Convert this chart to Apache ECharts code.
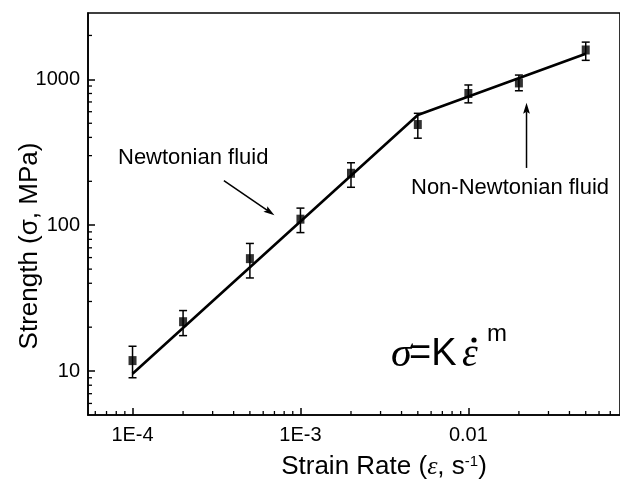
<!DOCTYPE html>
<html><head><meta charset="utf-8">
<script src="https://cdn.jsdelivr.net/npm/echarts@6/dist/echarts.min.js"></script>
<style>html,body{margin:0;padding:0;background:#fff}#c{width:620px;height:482px}</style>
</head><body><div id="c"></div>
<script>
// ---- data ----
const strainRate = [1e-4, 2e-4, 5e-4, 1e-3, 2e-3, 5e-3, 1e-2, 2e-2, 5e-2];
const strength   = [11.8, 21.8, 59, 110, 227, 490, 800, 945, 1590];
const errLow     = [9.0, 17.5, 43.5, 89, 182, 395, 690, 835, 1350];
const errHigh    = [14.8, 26, 75, 131, 268, 585, 915, 1070, 1800];
const fitRate    = [1e-4, 5e-3, 5e-2];
const fitStrength= [9.6, 570, 1500];
const xTickLabels = {'-4':'1E-4','-3':'1E-3','-2':'0.01'};
const yTickLabels = {'1':'10','2':'100','3':'1000'};
// arrows: [tailX, tailY, tipX, tipY]
const arrows = [[3.5e-4, 202, 7.0e-4, 117], [0.0222, 247, 0.0222, 690]];

const X_MIN = 5.43e-5, X_MAX = 0.08, Y_MIN = 5, Y_MAX = 2850;

function minorValues(lo, hi){
  const out=[];
  for(let e=-6;e<=4;e++){
    for(let m=2;m<=9;m++){
      const v=m*Math.pow(10,e);
      if(v>lo && v<hi) out.push(v);
    }
  }
  return out;
}
const xMinor = minorValues(X_MIN, X_MAX);
const yMinor = minorValues(Y_MIN, Y_MAX);

function fmt(map){
  return function(v){
    const l=Math.log10(v), r=Math.round(l);
    if(Math.abs(l-r)<1e-6 && map[String(r)]!==undefined) return map[String(r)];
    return '';
  };
}

const chart = echarts.init(document.getElementById('c'), null, {renderer:'canvas'});
const FONT='Liberation Sans';
const axisLine={lineStyle:{color:'#000',width:1.6}};
const option = {
  backgroundColor:'#fff',
  animation:false,
  grid:{left:88, top:13, right:-11, bottom:67, show:true, borderColor:'#000', borderWidth:1.6},
  xAxis:{type:'log', logBase:10, min:X_MIN, max:X_MAX,
    axisLine:axisLine,
    axisTick:{inside:true, length:7, lineStyle:{color:'#000',width:1.5}},
    minorTick:{show:false}, splitLine:{show:false},
    axisLabel:{formatter:fmt(xTickLabels), color:'#000', fontFamily:FONT, fontSize:20, margin:10, showMinLabel:false, showMaxLabel:false}
  },
  yAxis:{type:'log', logBase:10, min:Y_MIN, max:Y_MAX,
    axisLine:axisLine,
    axisTick:{inside:true, length:7, lineStyle:{color:'#000',width:1.5}},
    minorTick:{show:false}, splitLine:{show:false},
    axisLabel:{formatter:fmt(yTickLabels), color:'#000', fontFamily:FONT, fontSize:20, margin:8, showMinLabel:false, showMaxLabel:false}
  },
  series:[
    {type:'line', data:fitRate.map((x,i)=>[x,fitStrength[i]]), showSymbol:false, symbol:'none',
     lineStyle:{color:'#000', width:2.6}, z:2, silent:true},
    {type:'custom', z:3, silent:true,
     data:strainRate.map((x,i)=>[x, errLow[i], errHigh[i]]),
     encode:{x:0, y:[1,2]},
     renderItem:function(params, api){
       const x=api.value(0);
       const lo=api.coord([x, api.value(1)]);
       const hi=api.coord([x, api.value(2)]);
       const hw=4, st={stroke:'#000', lineWidth:1.5};
       return {type:'group', children:[
         {type:'line', shape:{x1:lo[0],y1:lo[1],x2:hi[0],y2:hi[1]}, style:st},
         {type:'line', shape:{x1:lo[0]-hw,y1:lo[1],x2:lo[0]+hw,y2:lo[1]}, style:st},
         {type:'line', shape:{x1:hi[0]-hw,y1:hi[1],x2:hi[0]+hw,y2:hi[1]}, style:st}
       ]};
     }
    },
    {type:'scatter', z:4, silent:true, symbol:'rect', symbolSize:[8,9],
     itemStyle:{color:'#000'}, data:strainRate.map((x,i)=>[x,strength[i]])},
    // annotation arrows
    {type:'custom', z:5, silent:true, clip:false,
     data:arrows,
     encode:{x:[0,2], y:[1,3]},
     renderItem:function(params, api){
       const a=api.coord([api.value(0), api.value(1)]);
       const b=api.coord([api.value(2), api.value(3)]);
       const dx=b[0]-a[0], dy=b[1]-a[1], L=Math.hypot(dx,dy);
       const ux=dx/L, uy=dy/L, hl=11, hw=3.4;
       const bx=b[0]-ux*hl, by=b[1]-uy*hl;
       return {type:'group', children:[
         {type:'line', shape:{x1:a[0],y1:a[1],x2:bx+ux*2,y2:by+uy*2}, style:{stroke:'#000',lineWidth:1.5}},
         {type:'polygon', shape:{points:[[b[0],b[1]],[bx-uy*hw,by+ux*hw],[bx+ux*2,by+uy*2],[bx+uy*hw,by-ux*hw]]}, style:{fill:'#000'}}
       ]};
     }
    },
    // minor ticks on x axis
    {type:'custom', z:5, silent:true, clip:false,
     data:xMinor.map(v=>[v, Y_MIN]),
     encode:{x:0,y:1},
     renderItem:function(params, api){
       const p=api.coord([api.value(0), api.value(1)]);
       return {type:'line', shape:{x1:p[0],y1:p[1],x2:p[0],y2:p[1]-4}, style:{stroke:'#000',lineWidth:1.3}};
     }
    },
    // minor ticks on y axis
    {type:'custom', z:5, silent:true, clip:false,
     data:yMinor.map(v=>[X_MIN, v]),
     encode:{x:0,y:1},
     renderItem:function(params, api){
       const p=api.coord([api.value(0), api.value(1)]);
       return {type:'line', shape:{x1:p[0],y1:p[1],x2:p[0]+4,y2:p[1]}, style:{stroke:'#000',lineWidth:1.3}};
     }
    }
  ],
  graphic:[
    {type:'text', left:118, top:147, style:{text:'Newtonian fluid', fontFamily:FONT, fontSize:22, fill:'#000'}},
    {type:'text', left:411, top:177, style:{text:'Non-Newtonian fluid', fontFamily:FONT, fontSize:22, fill:'#000'}},
    // formula
    {type:'text', x:391, y:355, style:{text:'\u03c3', fontFamily:'Liberation Serif', fontStyle:'italic', fontSize:42, fill:'#000', verticalAlign:'middle'}},
    {type:'text', x:409, y:355, style:{text:'=K', fontFamily:FONT, fontSize:38, fill:'#000', verticalAlign:'middle'}},
    {type:'text', x:462, y:355, style:{text:'\u03b5', fontFamily:'Liberation Serif', fontStyle:'italic', fontSize:40, fill:'#000', verticalAlign:'middle'}},
    {type:'circle', shape:{cx:474, cy:340, r:2.6}, style:{fill:'#000'}},
    {type:'text', x:487, y:334, style:{text:'m', fontFamily:FONT, fontSize:24, fill:'#000', verticalAlign:'middle'}},
    // axis titles
    {type:'text', x:384, y:467, style:{
      text:'Strain Rate ({e|\u03b5}, s{s|-1})', fontFamily:FONT, fontSize:26, fill:'#000', align:'center', verticalAlign:'middle',
      rich:{e:{fontFamily:'Liberation Serif', fontStyle:'italic', fontSize:26}, s:{fontSize:15, verticalAlign:'top', padding:[0,0,11,0]}}}},
    {type:'text', x:30, y:246, rotation:Math.PI/2, style:{
      text:'Strength (\u03c3, MPa)', fontFamily:FONT, fontSize:26, fill:'#000', align:'center', verticalAlign:'middle'}}
  ]
};
chart.setOption(option);
</script>
</body></html>
